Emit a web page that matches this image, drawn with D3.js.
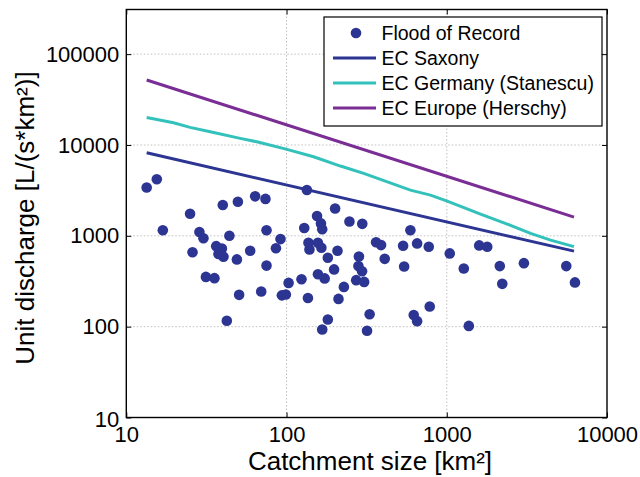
<!DOCTYPE html>
<meta charset="utf-8">
<head>
<script src="https://d3js.org/d3.v7.min.js"></script>
<style>
body { margin: 0; background: #fff; }
text { font-family: "Liberation Sans", Arial, Helvetica, sans-serif; fill: #000; }
.grid line { stroke: #b0b0b0; stroke-width: 0.8; stroke-dasharray: 1.5,2; }
</style>
</head>
<body>
<script>

// flood of record: catchment size [km2] and unit discharge [L/(s*km2)]
var floodArea = [13.4, 15.5, 16.9, 25, 28.6, 30.3, 25.9, 40, 49.7, 63.7, 73.9, 44, 36.4, 39.5, 37.6, 40.4,
  49, 59.3, 75, 91.7, 85.9, 75, 31.4, 35.5, 50.6, 69.5, 93.5, 99, 103, 124, 42.4, 129,
  134, 201, 155, 164, 167, 247, 297, 593, 137, 139, 157, 165, 181, 208, 362, 389, 410, 534,
  653, 772, 1044, 1277, 542, 283, 281, 296, 272, 305, 198, 157, 173, 228, 211, 136, 181, 167,
  330, 318, 622, 653, 783, 1373, 1594, 1789, 2143, 2220, 3030, 5570, 6310];
var floodQ = [3400, 4200, 1150, 1750, 1100, 940, 660, 2180, 2370, 2720, 2550, 1000, 770, 725, 630, 590,
  550, 685, 1150, 920, 730, 470, 353, 342, 224, 244, 221, 226, 303, 333, 116, 1220,
  3200, 2000, 1650, 1370, 1180, 1440, 1355, 1150, 840, 708, 840, 740, 573, 684, 850, 790, 558, 776,
  825, 757, 640, 437, 460, 593, 464, 408, 325, 311, 427, 378, 340, 274, 202, 207, 120, 93,
  137, 90, 134, 115, 167, 102, 784, 757, 464, 296, 500, 464, 307];

// envelope curves
var ecArea = [13.4, 6225];
var saxonyQ = [8200, 678];
var europeQ = [51900, 1607];
var germanyArea = [13.4, 19.7, 25, 33.4, 51.4, 65.3, 100.6, 147.5, 217, 303, 593, 791, 1006, 1624, 2385, 3336, 4446, 6225];
var germanyQ = [20100, 17560, 15630, 13960, 11830, 10840, 8944, 7413, 5862, 4863, 3185, 2805, 2410, 1734, 1346, 1063, 897, 760];

var xTicks = [10, 100, 1000, 10000];
var yTicks = [10, 100, 1000, 10000, 100000];

var legendNames = ["Flood of Record", "EC Saxony", "EC Germany (Stanescu)", "EC Europe (Herschy)"];
var colDots = "#2d3593", colSaxony = "#2d3593", colGermany = "#33c1bb", colEurope = "#7a2d94";

var margin = {top: 9.5, right: 33, bottom: 59.5, left: 126.3},
    width = 640 - margin.left - margin.right,
    height = 477 - margin.top - margin.bottom;

var x = d3.scaleLog().domain([10, 10000]).range([0, width]);
var y = d3.scaleLog().domain([10, 310000]).range([height, 0]);

var svg = d3.select("body").append("svg")
    .attr("width", 640)
    .attr("height", 477)
  .append("g")
    .attr("transform", "translate(" + margin.left + "," + margin.top + ")");

// dotted grid
var grid = svg.append("g").attr("class", "grid");
grid.selectAll(".gx").data(xTicks.slice(1, -1)).enter().append("line")
    .attr("x1", function(d) { return x(d); }).attr("x2", function(d) { return x(d); })
    .attr("y1", 0).attr("y2", height);
grid.selectAll(".gy").data(yTicks.slice(1)).enter().append("line")
    .attr("x1", 0).attr("x2", width)
    .attr("y1", function(d) { return y(d); }).attr("y2", function(d) { return y(d); });

// lines
var line = d3.line()
    .x(function(d) { return x(d[0]); })
    .y(function(d) { return y(d[1]); });

function drawLine(xs, ys, col) {
  svg.append("path")
      .datum(d3.zip(xs, ys))
      .attr("fill", "none")
      .attr("stroke", col)
      .attr("stroke-width", 3)
      .attr("d", line);
}
drawLine(ecArea, saxonyQ, colSaxony);
drawLine(germanyArea, germanyQ, colGermany);
drawLine(ecArea, europeQ, colEurope);

// points
svg.selectAll(".dot")
    .data(d3.zip(floodArea, floodQ))
  .enter().append("circle")
    .attr("class", "dot")
    .attr("cx", function(d) { return x(d[0]); })
    .attr("cy", function(d) { return y(d[1]); })
    .attr("r", 5.3)
    .attr("fill", colDots);

// axes, ticks inside
var fmt = d3.format("d");
var xAxis = svg.append("g")
    .attr("transform", "translate(0," + height + ")")
    .call(d3.axisBottom(x).tickValues(xTicks).tickFormat(fmt).tickSizeInner(-5).tickSizeOuter(0).tickPadding(8.5));
var yAxis = svg.append("g")
    .call(d3.axisLeft(y).tickValues(yTicks).tickFormat(fmt).tickSizeInner(-5).tickSizeOuter(0).tickPadding(7));
svg.append("g")
    .call(d3.axisTop(x).tickValues(xTicks).tickFormat("").tickSizeInner(-5).tickSizeOuter(0));
svg.append("g")
    .attr("transform", "translate(" + width + ",0)")
    .call(d3.axisRight(y).tickValues(yTicks).tickFormat("").tickSizeInner(-5).tickSizeOuter(0));

svg.selectAll(".tick text").style("font-size", "22px");
// lowest y label sits a little lower, clear of the x labels
yAxis.selectAll(".tick text").filter(function(d) { return d === 10; }).attr("y", 2);
svg.selectAll(".domain").remove();
svg.selectAll(".tick line").attr("stroke", "#000").attr("stroke-width", 1);

svg.append("rect")
    .attr("width", width).attr("height", height)
    .attr("fill", "none").attr("stroke", "#000").attr("stroke-width", 1.4);

// axis labels
svg.append("text")
    .attr("x", 370 - margin.left)
    .attr("y", 470 - margin.top)
    .style("text-anchor", "middle")
    .style("font-size", "26px")
    .text("Catchment size [km²]");

svg.append("text")
    .attr("transform", "rotate(-90)")
    .attr("x", -(218 - margin.top))
    .attr("y", 33.5 - margin.left)
    .style("text-anchor", "middle")
    .style("font-size", "26px")
    .text("Unit discharge [L/(s*km²)]");

// legend
var legend = svg.append("g")
    .attr("transform", "translate(" + (324 - margin.left) + "," + (17 - margin.top) + ")");
legend.append("rect")
    .attr("width", 278).attr("height", 109)
    .attr("fill", "#fff").attr("stroke", "#000").attr("stroke-width", 1.2);

var legendCols = [colDots, colSaxony, colGermany, colEurope];
legendNames.forEach(function(name, i) {
  var cy = 16 + i * 25;
  if (i === 0) {
    legend.append("circle").attr("cx", 32).attr("cy", cy).attr("r", 5.3).attr("fill", colDots);
  } else {
    legend.append("line")
        .attr("x1", 9).attr("x2", 52)
        .attr("y1", cy).attr("y2", cy)
        .attr("stroke", legendCols[i]).attr("stroke-width", 3);
  }
  legend.append("text")
      .attr("x", 57.5)
      .attr("y", cy + 7)
      .style("font-size", "19.5px")
      .text(name);
});

</script>
</body>
